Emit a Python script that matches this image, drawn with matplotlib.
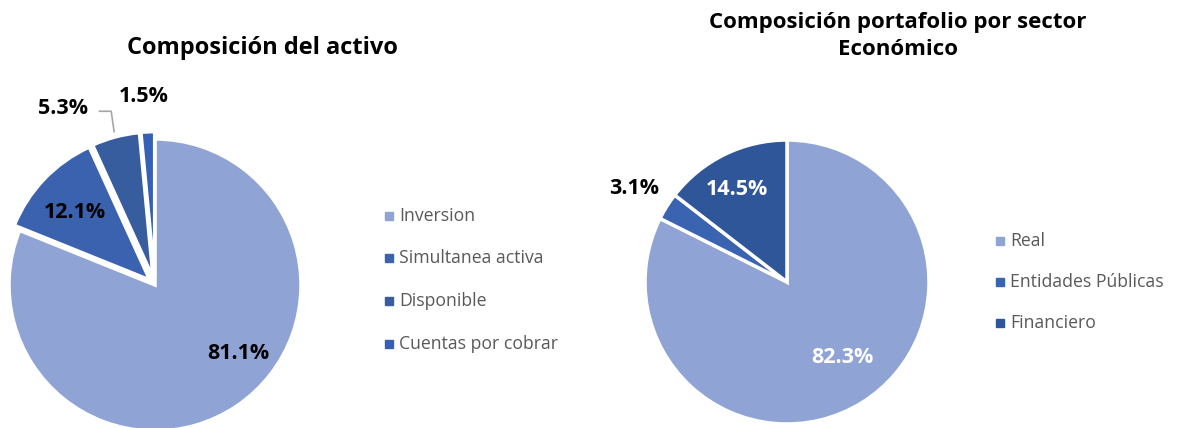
import matplotlib
matplotlib.use("Agg")
import matplotlib.pyplot as plt
from matplotlib.lines import Line2D

plt.rcParams['font.family'] = ['Open Sans', 'DejaVu Sans']

# Data
left_title = "Composición del activo"
left_labels = ["Inversion", "Simultanea activa", "Disponible", "Cuentas por cobrar"]
left_values = [81.1, 12.1, 5.3, 1.5]
right_title = "Composición portafolio por sector\nEconómico"
right_labels = ["Real", "Entidades Públicas", "Financiero"]
right_values = [82.3, 3.1, 14.5]

left_colors = ["#8FA4D5", "#3B62AE", "#375D9F", "#3560B5"]
right_colors = ["#8FA4D5", "#3A63B2", "#2F5699"]

W, H = 1182, 428
fig = plt.figure(figsize=(W / 100, H / 100), dpi=100)
LIM = 1.35

def pie_axes(cx, cy, R, lim=LIM):
    size = 2 * R * lim
    ax = fig.add_axes([(cx - size / 2) / W, 1 - (cy + size / 2) / H, size / W, size / H])
    return ax

def fix(ax):
    ax.set_xlim(-LIM, LIM)
    ax.set_ylim(-LIM, LIM)
    ax.set_aspect('equal')
    ax.axis('off')

# Left pie
axL = pie_axes(155, 285, 146)
axL.pie(left_values, colors=left_colors, startangle=90, counterclock=False,
        explode=[0, 0.05, 0.05, 0.05], radius=1.0,
        wedgeprops=dict(edgecolor='white', linewidth=2.5))
fix(axL)
lpos = [(0.57, -0.47), (-0.55, 0.50), (-0.63, 1.21), (-0.08, 1.29)]
for (x, y), v in zip(lpos, left_values):
    axL.text(x, y, f"{v:.1f}%", ha='center', va='center', fontsize=15.5,
             fontweight='bold', color='black')
axL.add_line(Line2D([-0.38, -0.30, -0.28], [1.19, 1.19, 1.05], color='#A6A6A6', lw=1.2))

# Right pie
axR = pie_axes(787, 282, 142)
axR.pie(right_values, colors=right_colors, startangle=90, counterclock=False,
        radius=1.0, wedgeprops=dict(edgecolor='white', linewidth=2.5))
fix(axR)
rpos = [(0.39, -0.53), (-1.08, 0.66), (-0.35, 0.65)]
rcols = ['white', 'black', 'white']
for (x, y), v, c in zip(rpos, right_values, rcols):
    axR.text(x, y, f"{v:.1f}%", ha='center', va='center', fontsize=15.5,
             fontweight='bold', color=c)

# Titles
fig.text(262 / W, 1 - 48 / H, left_title, ha='center', va='center',
         fontsize=17, fontweight='bold', color='black')
fig.text(898 / W, 1 - 36 / H, right_title, ha='center', va='center',
         fontsize=16, fontweight='bold', color='black', linespacing=1.35)

# Legends
def legend(x, ys, labels, colors):
    for y, lab, col in zip(ys, labels, colors):
        fig.patches.append(plt.Rectangle(((x - 4) / W, 1 - (y + 4) / H), 8 / W, 8 / H,
                                         transform=fig.transFigure, color=col, figure=fig))
        fig.text((x + 10) / W, 1 - y / H, lab, ha='left', va='center',
                 fontsize=12.7, color='#595959')

legend(389, [216, 258, 301, 344], left_labels, left_colors)
legend(1000, [241, 282, 323], right_labels, right_colors)

fig.savefig("out.png", dpi=100, facecolor='white')
